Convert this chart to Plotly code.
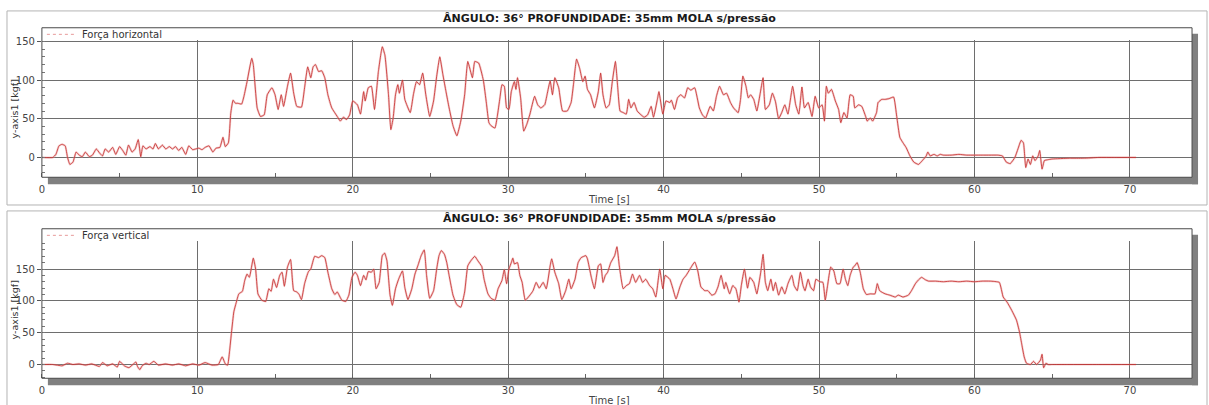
import plotly.graph_objects as go

W, H = 1209, 405

# ---- horizontal force series (time [s], force [kgf]) ----
t_horizontal = [
    0.0, 0.7, 0.9, 1.1, 1.3, 1.5, 1.65, 1.8, 2.0, 2.2, 2.4, 2.6, 2.8, 3.05, 3.25, 3.5, 3.7, 3.9,
    4.07, 4.3, 4.55, 4.75, 5.0, 5.2, 5.4, 5.57, 5.8, 6.0, 6.2, 6.36, 6.5, 6.7, 6.95, 7.15, 7.3,
    7.5, 7.75, 7.97, 8.2, 8.4, 8.6, 8.8, 9.0, 9.25, 9.45, 9.7, 9.9, 10.1, 10.3, 10.5, 10.75, 11.0,
    11.2, 11.45, 11.65, 11.8, 12.0, 12.15, 12.3, 12.45, 12.6, 12.85, 13.0, 13.2, 13.5, 13.6, 13.85,
    14.06, 14.3, 14.5, 14.8, 15.0, 15.2, 15.4, 15.55, 15.8, 16.0, 16.2, 16.4, 16.7, 16.9, 17.1,
    17.3, 17.45, 17.6, 17.8, 18.0, 18.2, 18.4, 18.65, 19.0, 19.2, 19.4, 19.6, 19.8, 20.0, 20.3,
    20.5, 20.7, 20.8, 21.0, 21.2, 21.4, 21.65, 21.9, 22.07, 22.3, 22.45, 22.6, 22.75, 22.9, 23.0,
    23.2, 23.35, 23.7, 23.9, 24.1, 24.3, 24.5, 24.7, 24.95, 25.2, 25.4, 25.6, 25.8, 26.0, 26.2,
    26.45, 26.7, 26.95, 27.2, 27.4, 27.7, 27.85, 28.1, 28.4, 28.6, 28.76, 28.9, 29.15, 29.3, 29.47,
    29.6, 29.75, 29.9, 30.05, 30.2, 30.4, 30.5, 30.6, 30.8, 31.0, 31.2, 31.4, 31.7, 31.9, 32.1,
    32.35, 32.5, 32.7, 32.85, 33.0, 33.25, 33.5, 33.8, 34.05, 34.2, 34.4, 34.6, 34.8, 34.95, 35.1,
    35.3, 35.55, 35.8, 35.95, 36.1, 36.3, 36.5, 36.7, 36.9, 37.05, 37.2, 37.4, 37.6, 37.75, 37.9,
    38.1, 38.3, 38.55, 38.75, 38.97, 39.2, 39.35, 39.6, 39.7, 39.95, 40.15, 40.4, 40.5, 40.7, 40.9,
    41.1, 41.35, 41.55, 41.75, 42.0, 42.3, 42.5, 42.7, 43.0, 43.2, 43.4, 43.6, 43.85, 44.05, 44.3,
    44.5, 44.8, 44.95, 45.1, 45.3, 45.45, 45.6, 45.8, 46.0, 46.2, 46.4, 46.55, 46.8, 47.0, 47.2,
    47.4, 47.6, 47.8, 48.0, 48.3, 48.5, 48.7, 48.9, 49.06, 49.3, 49.55, 49.75, 49.98, 50.2, 50.35,
    50.47, 50.6, 50.8, 51.05, 51.26, 51.4, 51.6, 51.8, 52.0, 52.2, 52.3, 52.55, 52.75, 53.0, 53.1,
    53.3, 53.45, 53.7, 53.8, 54.04, 54.25, 54.5, 54.8, 55.0, 55.2, 55.4, 55.6, 55.85, 56.1, 56.4,
    56.65, 56.9, 57.0, 57.15, 57.4, 57.6, 57.8, 58.0, 58.5, 59.0, 59.5, 60.0, 60.5, 61.0, 61.5,
    61.8, 62.05, 62.3, 62.6, 62.8, 63.0, 63.15, 63.3, 63.45, 63.6, 63.75, 63.9, 64.1, 64.2, 64.35,
    64.5, 64.7, 65.0, 66.1, 67.0, 68.0, 69.0, 70.4,
]
f_horizontal = [
    0, 0, 4, 15, 17, 15, 0, -9, -6, 7, 3, 1, 7, 1, 3, 11, 6, 2,
    11, 7, 13, 4, 14, 9, 3, 16, 7, 11, 23, 1, 15, 11, 14, 11, 18,
    11, 16, 11, 14, 11, 14, 9, 13, 4, 15, 10, 11, 12, 10, 13, 15, 7,
    12, 13, 26, 14, 19, 57, 74, 70, 70, 69, 79, 98, 128, 120, 64,
    53, 55, 81, 90, 81, 62, 81, 66, 92, 109, 83, 66, 65, 90, 117,
    103, 117, 120, 111, 112, 103, 81, 64, 53, 47, 52, 49, 55, 73, 68,
    56, 85, 73, 90, 92, 62, 111, 143, 132, 81, 36, 51, 81, 94, 83,
    100, 75, 58, 81, 98, 94, 109, 81, 53, 73, 105, 130, 107, 85, 64,
    41, 28, 47, 81, 124, 103, 124, 122, 100, 70, 45, 41, 38, 53, 77,
    94, 92, 64, 62, 85, 98, 88, 103, 77, 34, 43, 56, 79, 68, 64,
    68, 81, 99, 81, 103, 90, 60, 60, 71, 94, 127, 115, 98, 105, 88,
    81, 64, 85, 109, 81, 64, 68, 98, 124, 90, 60, 58, 56, 75, 64,
    71, 60, 55, 52, 55, 66, 52, 75, 85, 56, 73, 71, 74, 62, 77,
    81, 77, 90, 87, 90, 64, 55, 51, 66, 60, 79, 92, 81, 83, 71,
    64, 58, 75, 105, 92, 77, 81, 75, 60, 81, 103, 62, 68, 83, 72,
    50, 58, 68, 56, 92, 68, 56, 91, 64, 71, 53, 79, 64, 68, 47,
    92, 83, 88, 73, 62, 45, 58, 51, 81, 79, 64, 68, 66, 53, 47,
    51, 47, 58, 71, 75, 75, 76, 78, 53, 26, 19, 13, 2, -6, -9,
    -4, 2, 7, 2, 4, 2, 4, 3, 3, 4, 3, 3, 3, 3, 3,
    2, -6, -8, 0, 11, 22, 19, -13, -2, -9, 2, -4, 2, 9, -15,
    -4, -3, -2, -1, -1, 0, 0, 0,
]

# ---- vertical force series (time [s], force [kgf]) ----
t_vertical = [
    0.0, 0.7, 1.3, 1.65, 2.0, 2.4, 2.8, 3.2, 3.7, 3.9, 4.2, 4.55, 4.85, 5.0, 5.3, 5.6, 5.85, 6.05,
    6.15, 6.3, 6.45, 6.7, 6.9, 7.2, 7.5, 7.95, 8.4, 8.8, 9.25, 9.7, 10.1, 10.5, 10.95, 11.35, 11.6,
    11.8, 11.95, 12.07, 12.2, 12.35, 12.5, 12.67, 12.9, 13.05, 13.2, 13.35, 13.6, 13.75, 13.9,
    14.15, 14.4, 14.6, 14.75, 14.9, 15.1, 15.3, 15.45, 15.6, 15.8, 16.0, 16.2, 16.4, 16.55, 16.7,
    16.9, 17.15, 17.3, 17.55, 17.8, 18.0, 18.2, 18.4, 18.65, 18.85, 19.0, 19.3, 19.55, 19.75,
    19.95, 20.15, 20.3, 20.5, 20.7, 20.85, 21.0, 21.2, 21.35, 21.5, 21.7, 21.9, 22.05, 22.2, 22.4,
    22.55, 22.75, 22.95, 23.2, 23.35, 23.55, 23.8, 24.0, 24.2, 24.4, 24.6, 24.75, 24.95, 25.2,
    25.4, 25.55, 25.7, 25.9, 26.05, 26.2, 26.45, 26.7, 26.95, 27.2, 27.4, 27.6, 27.85, 28.05,
    28.3, 28.45, 28.7, 28.9, 29.15, 29.35, 29.6, 29.75, 29.9, 30.05, 30.2, 30.3, 30.4, 30.6,
    30.75, 30.9, 31.1, 31.4, 31.6, 31.8, 32.0, 32.25, 32.45, 32.7, 32.8, 33.0, 33.25, 33.45,
    33.7, 33.9, 34.05, 34.3, 34.5, 34.7, 35.0, 35.1, 35.35, 35.55, 35.8, 35.95, 36.1, 36.25,
    36.4, 36.6, 36.85, 37.0, 37.15, 37.4, 37.6, 37.8, 38.0, 38.2, 38.45, 38.65, 38.85, 39.1,
    39.3, 39.5, 39.75, 39.95, 40.1, 40.4, 40.6, 40.8, 41.05, 41.25, 41.45, 41.7, 42.0, 42.2,
    42.4, 42.65, 42.85, 43.1, 43.3, 43.5, 43.7, 43.9, 44.0, 44.25, 44.45, 44.65, 44.85, 45.0,
    45.2, 45.4, 45.55, 45.8, 46.0, 46.25, 46.4, 46.55, 46.7, 46.9, 47.05, 47.2, 47.4, 47.6,
    47.8, 48.0, 48.25, 48.4, 48.6, 48.8, 48.97, 49.1, 49.3, 49.45, 49.65, 49.8, 50.05, 50.25,
    50.4, 50.55, 50.75, 50.95, 51.15, 51.35, 51.55, 51.7, 51.85, 52.0, 52.2, 52.3, 52.45, 52.65,
    52.85, 53.05, 53.3, 53.6, 53.75, 53.9, 54.25, 54.55, 54.9, 55.1, 55.4, 55.75, 55.95, 56.2,
    56.4, 56.6, 56.85, 57.05, 57.5, 58.0, 58.5, 59.0, 59.5, 60.0, 60.5, 61.0, 61.6, 61.85, 62.1,
    62.4, 62.7, 62.9, 63.05, 63.2, 63.35, 63.6, 63.8, 64.0, 64.25, 64.35, 64.45, 64.6, 64.75,
    64.95, 66.0, 68.0, 70.4,
]
f_vertical = [
    0, 0, -2, 2, 0, 1, -1, 1, -3, 3, -2, 1, -4, 5, -2, -5, 0, 4,
    -3, -8, -2, 2, 0, 5, -1, 1, -1, 1, -2, 1, -1, 3, -1, 0, 12,
    1, -1, 20, 51, 83, 97, 111, 115, 132, 142, 137, 167, 150, 111,
    101, 99, 119, 115, 134, 121, 140, 145, 123, 153, 165, 116, 114, 110, 102,
    127, 146, 150, 170, 168, 171, 168, 145, 119, 110, 114, 101, 99, 109,
    137, 145, 140, 124, 140, 133, 146, 145, 150, 119, 129, 171, 175, 163, 109,
    93, 119, 134, 147, 121, 102, 119, 142, 156, 171, 180, 140, 104, 116,
    150, 171, 179, 173, 160, 140, 109, 94, 90, 114, 155, 163, 170, 163,
    154, 134, 111, 104, 101, 119, 132, 149, 127, 150, 160, 167, 158, 160,
    140, 129, 101, 109, 116, 129, 120, 129, 119, 155, 166, 145, 127, 102,
    116, 134, 119, 134, 160, 168, 171, 166, 137, 119, 155, 158, 129, 140,
    145, 160, 171, 185, 155, 119, 124, 127, 142, 129, 140, 129, 134, 124,
    119, 106, 150, 119, 140, 134, 119, 103, 122, 134, 140, 150, 161, 147,
    122, 116, 116, 109, 111, 122, 140, 119, 129, 111, 124, 119, 98, 124,
    150, 120, 137, 129, 111, 145, 173, 129, 116, 134, 116, 129, 109, 122,
    111, 127, 140, 124, 116, 145, 124, 116, 134, 122, 116, 134, 130, 129,
    101, 124, 153, 147, 127, 127, 150, 134, 124, 140, 153, 155, 160, 145,
    119, 110, 111, 111, 127, 116, 111, 109, 106, 109, 106, 109, 116, 127,
    133, 137, 133, 131, 131, 130, 131, 130, 131, 130, 131, 131, 129, 106, 98,
    85, 70, 51, 31, 12, 2, 0, 5, 0, 7, 16, -5, 2, 0,
    0, 0, 0, 0,
]

chart_title = "ÂNGULO: 36° PROFUNDIDADE: 35mm MOLA s/pressão"
x_ticks = [0, 10, 20, 30, 40, 50, 60, 70]
y_ticks = [0, 50, 100, 150]

LINE_DARK = "#c42a2a"
LINE_HALO = "rgba(232, 150, 150, 0.45)"
LEGEND_PINK = "#e79a9a"
GRID = "#6e6e6e"
TICK_FONT = dict(family="DejaVu Sans, Verdana, sans-serif", size=10, color="#444444")


def px_x(x):
    return x / W


def px_y(y):
    return 1 - y / H


panels = [
    # pixel positions of title, box and grid area, plus the y range of the axis
    dict(series=(t_horizontal, f_horizontal), name="Força horizontal", legend="legend",
         title_y=15, box_top=24, grid_top=36, grid_bottom=175, yrange=[-25.6, 152.2],
         xtitle_y=197, panel=(4, 7, 1207, 203)),
    dict(series=(t_vertical, f_vertical), name="Força vertical", legend="legend2",
         title_y=217, box_top=227, grid_top=239, grid_bottom=378, yrange=[-21.6, 194.6],
         xtitle_y=400, panel=(4, 209, 1207, 420)),
]

X_LEFT, X_RIGHT = 39, 1192

fig = go.Figure()
shapes = []
annotations = []

for i, p in enumerate(panels):
    n = "" if i == 0 else str(i + 1)
    xa, ya = "x" + n, "y" + n
    t, f = p["series"]

    # soft halo under the thin line
    fig.add_trace(go.Scatter(x=t, y=f, mode="lines", xaxis=xa, yaxis=ya,
                             line=dict(color=LINE_HALO, width=2.2, shape="spline", smoothing=0.4),
                             showlegend=False, hoverinfo="skip"))
    fig.add_trace(go.Scatter(x=t, y=f, mode="lines", xaxis=xa, yaxis=ya,
                             line=dict(color=LINE_DARK, width=0.8, shape="spline", smoothing=0.4),
                             showlegend=False, name=p["name"]))
    # legend entry drawn as a dotted pink sample
    fig.add_trace(go.Scatter(x=[None], y=[None], mode="lines", xaxis=xa, yaxis=ya,
                             line=dict(color=LEGEND_PINK, width=1, dash="dot"),
                             name=p["name"], legend=p["legend"], showlegend=True))

    xdom = [px_x(X_LEFT), px_x(X_RIGHT)]
    ydom = [px_y(p["grid_bottom"]), px_y(p["grid_top"])]

    fig.layout["xaxis" + n] = dict(
        domain=xdom, anchor=ya, range=[0, 74], tickvals=x_ticks, showgrid=True,
        gridcolor=GRID, gridwidth=1, zeroline=False, showline=False, ticks="",
        ticklabelstandoff=5, tickfont=TICK_FONT,
        minor=dict(dtick=5, tick0=0, ticks="inside", ticklen=4, tickcolor="#666666",
                   showgrid=False),
    )
    fig.layout["yaxis" + n] = dict(
        domain=ydom, anchor=xa, range=p["yrange"], tickvals=y_ticks, showgrid=True,
        gridcolor=GRID, gridwidth=1, zeroline=False, showline=False, ticks="outside",
        ticklen=4, tickcolor="#555555", tickfont=TICK_FONT,
        minor=dict(dtick=10, tick0=0, ticks="inside", ticklen=3, tickcolor="#777777",
                   showgrid=False),
    )

    # outer panel border
    x0, y0, x1, y1 = p["panel"]
    shapes.append(dict(type="rect", xref="paper", yref="paper",
                       x0=px_x(x0), x1=px_x(x1), y0=px_y(y1), y1=px_y(y0),
                       line=dict(color="#b4b4b4", width=1), layer="below"))
    # drop shadow of the plot box
    shapes.append(dict(type="rect", xref="paper", yref="paper",
                       x0=px_x(X_LEFT + 6), x1=px_x(X_RIGHT + 6),
                       y0=px_y(p["grid_bottom"] + 7), y1=px_y(p["grid_bottom"]),
                       fillcolor="#808080", line=dict(width=0), layer="below"))
    shapes.append(dict(type="rect", xref="paper", yref="paper",
                       x0=px_x(X_RIGHT), x1=px_x(X_RIGHT + 6),
                       y0=px_y(p["grid_bottom"] + 7), y1=px_y(p["box_top"] + 6),
                       fillcolor="#808080", line=dict(width=0), layer="below"))
    # plot box
    shapes.append(dict(type="rect", xref="paper", yref="paper",
                       x0=px_x(X_LEFT), x1=px_x(X_RIGHT),
                       y0=px_y(p["grid_bottom"]), y1=px_y(p["box_top"]),
                       line=dict(color="#4a4a4a", width=1), layer="above"))

    annotations.append(dict(text="<b>" + chart_title + "</b>", xref="paper", yref="paper",
                            x=px_x(608), y=px_y(p["title_y"]), xanchor="center", yanchor="middle",
                            showarrow=False,
                            font=dict(family="DejaVu Sans, Verdana, sans-serif", size=11,
                                      color="#1a1a1a")))
    annotations.append(dict(text="Time [s]", xref="paper", yref="paper",
                            x=px_x(608), y=px_y(p["xtitle_y"]), xanchor="center",
                            yanchor="middle", showarrow=False, font=TICK_FONT))
    annotations.append(dict(text="y-axis1 [kgf]", xref="paper", yref="paper", textangle=-90,
                            x=px_x(11), y=(ydom[0] + ydom[1]) / 2, xanchor="center",
                            yanchor="middle", showarrow=False,
                            font=dict(family="DejaVu Sans, Verdana, sans-serif", size=9.5,
                                      color="#333333")))

    fig.layout[p["legend"]] = dict(
        x=px_x(X_LEFT), y=px_y(p["box_top"] - 8), xanchor="left", yanchor="top",
        bgcolor="rgba(0,0,0,0)", borderwidth=0, itemwidth=30,
        font=dict(family="DejaVu Sans, Verdana, sans-serif", size=10, color="#333333"),
    )

fig.update_layout(
    width=W, height=H, margin=dict(l=0, r=0, t=0, b=0),
    paper_bgcolor="white", plot_bgcolor="white",
    shapes=shapes, annotations=annotations, showlegend=True,
)

fig.write_html("out.html")
